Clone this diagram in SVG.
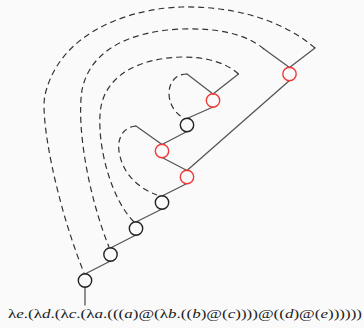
<svg xmlns="http://www.w3.org/2000/svg" width="364" height="328" viewBox="0 0 364 328">
<style>
.e{stroke:#555;stroke-width:1.3;fill:none;stroke-linecap:round}
.d{stroke:#333;stroke-width:1.2;fill:none;stroke-dasharray:6,4}
.lam{stroke:#222;stroke-width:1.4;fill:none}
.app{stroke:#f03a3a;stroke-width:1.4;fill:none}
.t{font-family:"Liberation Serif","DejaVu Serif",serif;font-size:12px;fill:#222}
.i{font-style:italic}
</style>
<rect width="364" height="328" fill="#fafafa"/>
<g id="connectors">
<path class="e" d="M85,287 L85,305"/>
<path class="e" d="M85,274 L110.5,261"/>
<path class="e" d="M110.5,248 L136,235"/>
<path class="e" d="M136,222 L162,209"/>
<path class="e" d="M162,196 L187,183.5"/>
<path class="e" d="M187,170.5 L162,157.5"/>
<path class="e" d="M187,170.5 L289.5,80.5"/>
<path class="e" d="M162,144.5 L136,126"/>
<path class="e" d="M162,144.5 L187,131.5"/>
<path class="e" d="M187,118.5 L213,107"/>
<path class="e" d="M213,94 L187,74"/>
<path class="e" d="M213,94 L238.5,74"/>
<path class="e" d="M289.5,67.5 L264,49"/>
<path class="e" d="M289.5,67.5 L315,48"/>
<path class="d" d="M315,48 C280,18 230,6 182,7 C134,8 60,30 45,95 C40,117 55,200 84,273"/>
<path class="d" d="M264,49 C245,33 215,28 182,29 C130,31 90,50 82,90 C76,130 90,200 109,247"/>
<path class="d" d="M238.5,74 C225,62 205,57 182,57 C140,58 102,75 100,115 C98,150 112,200 134,222"/>
<path class="d" d="M187,74 C165,74 163,105 182,117"/>
<path class="d" d="M136,126 C121,127 116,142 120,156 C124,175 140,189 157,195"/>
</g>
<g id="n1"><circle class="lam" cx="85" cy="280.5" r="6.7"/></g>
<g id="n2"><circle class="lam" cx="110.5" cy="254.5" r="6.7"/></g>
<g id="n3"><circle class="lam" cx="136" cy="228.5" r="6.7"/></g>
<g id="n4"><circle class="lam" cx="162" cy="202.5" r="6.7"/></g>
<g id="n5"><circle class="app" cx="187" cy="177" r="6.7"/></g>
<g id="n6"><circle class="app" cx="162" cy="151" r="6.7"/></g>
<g id="n7"><circle class="lam" cx="187" cy="125" r="6.7"/></g>
<g id="n8"><circle class="app" cx="213" cy="100.5" r="6.7"/></g>
<g id="n9"><circle class="app" cx="289.5" cy="74" r="6.7"/></g>
<g id="label">
<text class="t" x="8" y="318" textLength="354" lengthAdjust="spacingAndGlyphs">λ<tspan class="i">e</tspan>.(λ<tspan class="i">d</tspan>.(λ<tspan class="i">c</tspan>.(λ<tspan class="i">a</tspan>.(((<tspan class="i">a</tspan>)@(λ<tspan class="i">b</tspan>.((<tspan class="i">b</tspan>)@(<tspan class="i">c</tspan>))))@((<tspan class="i">d</tspan>)@(<tspan class="i">e</tspan>))))))</text>
</g>
</svg>
